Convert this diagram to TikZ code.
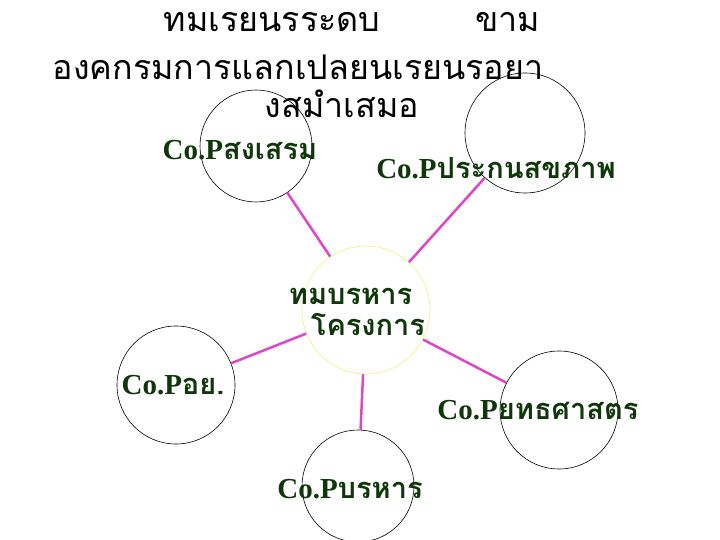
\documentclass[tikz,border=0pt]{standalone}
\usepackage{fontspec}
\setmainfont{Liberation Serif}
\newfontfamily\thai[Script=Thai]{Loma}
\begin{document}
\begin{tikzpicture}[x=1pt,y=-1pt,
  circ/.style={draw=black,line width=0.6pt},
  link/.style={draw={rgb,255:red,220;green,70;blue,200},line width=2.5pt},
  lbl/.style={text={rgb,255:red,15;green,55;blue,10},font=\fontsize{29}{31}\selectfont\bfseries},
  ttl/.style={font=\fontsize{34}{38}\selectfont\thai,align=center}]
\useasboundingbox (0,0) rectangle (720,540);
\node[ttl] (t1) at (352,22) {ทมเรยนรระดบ\hspace{95pt}ขาม};
\node[ttl] (t2) at (298,67) {องคกรมการแลกเปลยนเรยนรอยา};
\node[ttl] (t3) at (342,104) {งสมำเสมอ};
\node[circle,circ,minimum size=112pt] (c1) at (256,146) {};
\node[circle,circ,minimum size=120pt] (c2) at (525,133) {};
\node[circle,draw={rgb,255:red,240;green,240;blue,120},line width=0.6pt,minimum size=128pt] (c0) at (366,310) {};
\node[circle,circ,minimum size=118pt] (c3) at (176,385) {};
\node[circle,circ,minimum size=118pt] (c4) at (559,410) {};
\node[circle,circ,minimum size=112pt] (c5) at (358,486) {};
\node[lbl] (l1) at (240,150) {Co.P{\thai สงเสรม}};
\node[lbl] (l2) at (496,168) {Co.P{\thai ประกนสขภาพ}};
\node[lbl,align=left] (l0) at (357,312) {{\thai ทมบรหาร}\\\hspace{22pt}{\thai โครงการ}};
\node[lbl] (l3) at (173,385) {Co.P{\thai อย.}};
\node[lbl] (l4) at (538,410) {Co.P{\thai ยทธศาสตร}};
\node[lbl] (l5) at (350,489) {Co.P{\thai บรหาร}};
\draw[link] (c1) -- (c0);
\draw[link] (c2) -- (c0);
\draw[link] (c3) -- (c0);
\draw[link] (c4) -- (c0);
\draw[link] (c5) -- (c0);
\end{tikzpicture}
\end{document}
